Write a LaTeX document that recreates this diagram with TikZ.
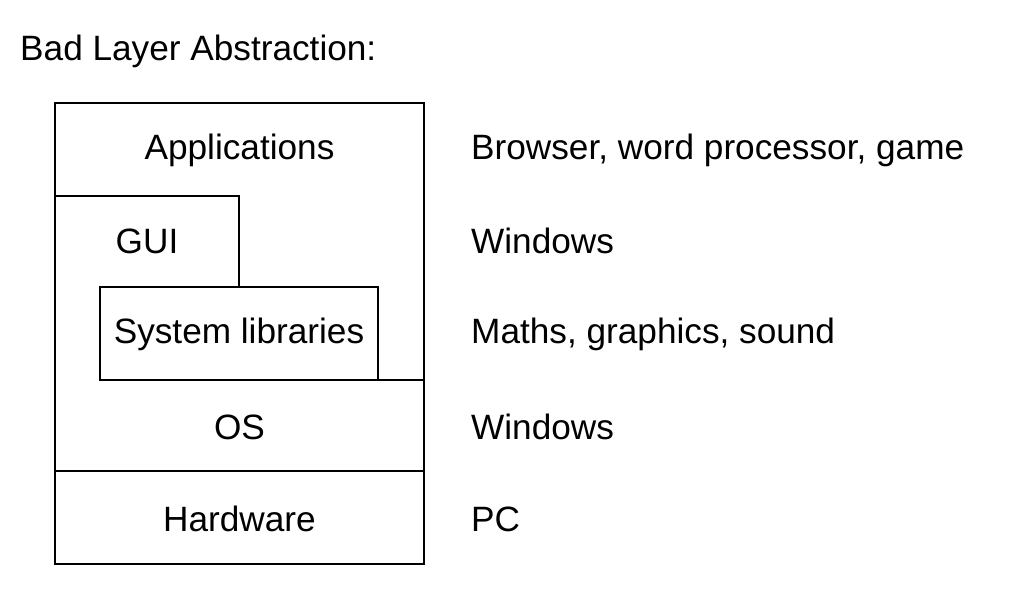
\documentclass[tikz,border=0pt]{standalone}
\usepackage{fontspec}
\setmainfont{Liberation Sans}
\begin{document}
\begin{tikzpicture}[x=1pt,y=-1pt,
  lbl/.style={anchor=base,inner sep=0pt,font=\fontsize{35.2}{42}\selectfont},
  side/.style={anchor=base west,inner sep=0pt,font=\fontsize{35.2}{42}\selectfont},
  frame/.style={draw=black,line width=1.2pt}]
\useasboundingbox (0,0) rectangle (1025,599);
% outer frame (Applications / GUI / OS region)
\draw[frame] (55,103) rectangle (424,471);
% GUI step
\draw[frame] (55,196) -- (239,196) -- (239,287);
% System libraries box
\draw[frame,fill=white] (100,287) rectangle (378,380);
\draw[frame] (378,380) -- (424,380);
% Hardware box
\draw[frame] (55,471) rectangle (424,564);
% title
\node[side] (title) at (20,61) {Bad Layer Abstraction:};
% layer labels
\node[lbl] (app) at (239.5,159) {Applications};
\node[lbl] (gui) at (147,253) {GUI};
\node[lbl] (sys) at (239,343) {System libraries};
\node[lbl] (os) at (239.5,439) {OS};
\node[lbl] (hw) at (239.5,531) {Hardware};
% examples
\node[side] (e1) at (471,159) {Browser, word processor, game};
\node[side] (e2) at (471,253) {Windows};
\node[side] (e3) at (471,343) {Maths, graphics, sound};
\node[side] (e4) at (471,439) {Windows};
\node[side] (e5) at (471,531) {PC};
\end{tikzpicture}
\end{document}
